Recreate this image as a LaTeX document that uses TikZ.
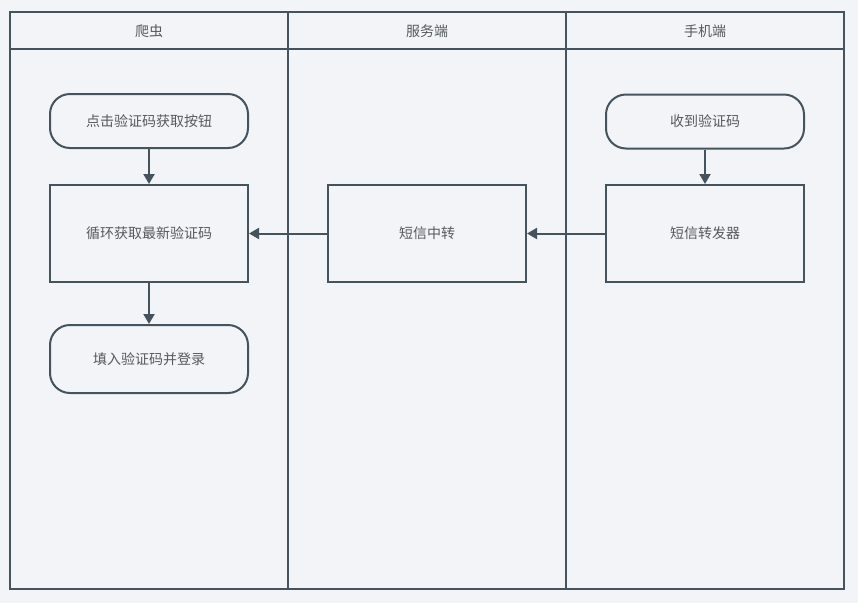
\documentclass[tikz,border=0pt]{standalone}
\usepackage{fontspec}
\newfontfamily\cjk{Noto Sans CJK SC}
\usetikzlibrary{positioning, arrows.meta}
\definecolor{lanebg}{HTML}{F2F4F7}
\definecolor{laneline}{HTML}{44535E}
\definecolor{labeltext}{HTML}{555A5E}
\begin{document}
\begin{tikzpicture}[x=1pt, y=-1pt,
  lane/.style={draw=laneline, line width=2pt},
  lanetitle/.style={font=\cjk\fontsize{14}{16}\selectfont, text=labeltext},
  proc/.style={draw=laneline, line width=2pt, minimum width=198pt, minimum height=97pt,
    inner sep=0pt, font=\cjk\fontsize{14}{16}\selectfont, text=labeltext},
  term/.style={proc, rounded corners=20pt, minimum height=54pt},
  flow/.style={draw=laneline, line width=2pt, -{Triangle[length=10pt, width=11pt]}}]
\def\laneA{149}
\def\laneB{427}
\def\laneC{705}
\fill[lanebg] (0,0) rectangle (858,603);
\useasboundingbox (0,0) rectangle (858,603);
% lanes
\draw[lane] (10,12) rectangle (844,589);
\draw[lane] (10,49) -- (844,49);
\draw[lane] (288,12) -- (288,589);
\draw[lane] (566,12) -- (566,589);
\node[lanetitle] (crawler) at (\laneA,31.5) {爬虫};
\node[lanetitle] (server) at (\laneB,31.5) {服务端};
\node[lanetitle] (phone) at (\laneC,31.5) {手机端};
% steps
\node[term] (click) at (\laneA,121) {点击验证码获取按钮};
\node[proc] (poll) at (\laneA,233.5) {循环获取最新验证码};
\node[term, minimum height=68pt] (login) at (\laneA,359) {填入验证码并登录};
\node[proc] (relay) at (\laneB,233.5) {短信中转};
\node[term] (receive) at (\laneC,121.5) {收到验证码};
\node[proc] (forward) at (\laneC,233.5) {短信转发器};
% arrows
\draw[flow] (click) -- (poll);
\draw[flow] (poll) -- (login);
\draw[flow] (receive) -- (forward);
\draw[flow] (forward) -- (relay);
\draw[flow] (relay) -- (poll);
\end{tikzpicture}
\end{document}
